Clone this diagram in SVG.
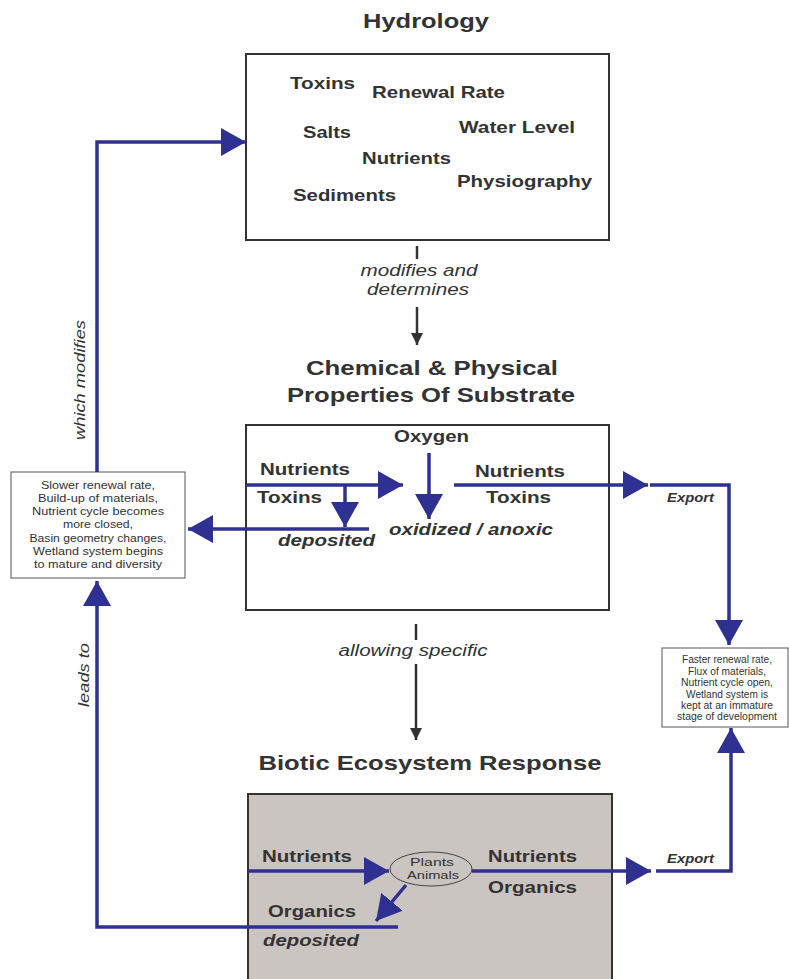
<svg xmlns="http://www.w3.org/2000/svg" width="789" height="979" viewBox="0 0 789 979">
<defs>
<style>
.t{font-family:"Liberation Sans",Arial,sans-serif;fill:#333;}
.title{font-size:21px;font-weight:bold;text-anchor:middle;}
.b{font-size:16.5px;font-weight:bold;}
.bi{font-size:16.5px;font-weight:bold;font-style:italic;}
.it{font-size:16px;font-style:italic;text-anchor:middle;}
.ex{font-size:12px;font-weight:bold;font-style:italic;}
.sm{font-size:11.5px;text-anchor:middle;}
.box{fill:#fff;stroke:#333;stroke-width:2;}
.nbox{fill:#fff;stroke:#555;stroke-width:1;}
.blue{stroke:#2e3192;stroke-width:3.5;fill:none;}
.dark{stroke:#333;stroke-width:2.5;fill:none;}
</style>
<marker id="ab" markerUnits="userSpaceOnUse" markerWidth="25" markerHeight="28" refX="25" refY="14" orient="auto" viewBox="0 0 25 28">
<path d="M0,0 L25,14 L0,28 z" fill="#2e3192"/>
</marker>
<marker id="ad" markerUnits="userSpaceOnUse" markerWidth="12" markerHeight="12" refX="12" refY="6" orient="auto" viewBox="0 0 12 12">
<path d="M0,0 L12,6 L0,12 z" fill="#333"/>
</marker>
</defs>
<rect width="789" height="979" fill="#fff"/>

<g id="hydrology">
<text class="t title" x="426" y="28" textLength="126" lengthAdjust="spacingAndGlyphs">Hydrology</text>
<rect class="box" x="246" y="54" width="363" height="186"/>
<text class="t b" x="290" y="89" textLength="65" lengthAdjust="spacingAndGlyphs">Toxins</text>
<text class="t b" x="372" y="98" textLength="133" lengthAdjust="spacingAndGlyphs">Renewal Rate</text>
<text class="t b" x="303" y="138" textLength="48" lengthAdjust="spacingAndGlyphs">Salts</text>
<text class="t b" x="459" y="133" textLength="116" lengthAdjust="spacingAndGlyphs">Water Level</text>
<text class="t b" x="362" y="164" textLength="89" lengthAdjust="spacingAndGlyphs">Nutrients</text>
<text class="t b" x="457" y="187" textLength="135" lengthAdjust="spacingAndGlyphs">Physiography</text>
<text class="t b" x="293" y="201" textLength="103" lengthAdjust="spacingAndGlyphs">Sediments</text>
</g>

<g id="substrate">
<text class="t title" x="432" y="375" textLength="252" lengthAdjust="spacingAndGlyphs">Chemical &amp; Physical</text>
<text class="t title" x="431" y="402" textLength="288" lengthAdjust="spacingAndGlyphs">Properties Of Substrate</text>
<rect class="box" x="246" y="425" width="363" height="185"/>
<text class="t b" x="394" y="442" textLength="75" lengthAdjust="spacingAndGlyphs">Oxygen</text>
<text class="t b" x="260" y="475" textLength="90" lengthAdjust="spacingAndGlyphs">Nutrients</text>
<text class="t b" x="257" y="503" textLength="65" lengthAdjust="spacingAndGlyphs">Toxins</text>
<text class="t b" x="475" y="477" textLength="90" lengthAdjust="spacingAndGlyphs">Nutrients</text>
<text class="t b" x="486" y="503" textLength="65" lengthAdjust="spacingAndGlyphs">Toxins</text>
<text class="t bi" x="278" y="546" textLength="97" lengthAdjust="spacingAndGlyphs">deposited</text>
<text class="t bi" x="389" y="535" textLength="164" lengthAdjust="spacingAndGlyphs">oxidized / anoxic</text>
</g>

<g id="biotic">
<text class="t title" x="430" y="770" textLength="343" lengthAdjust="spacingAndGlyphs">Biotic Ecosystem Response</text>
<rect x="248" y="794" width="364" height="190" fill="#cbc5c2" stroke="#333" stroke-width="2"/>
<text class="t b" x="262" y="862" textLength="90" lengthAdjust="spacingAndGlyphs">Nutrients</text>
<text class="t b" x="488" y="862" textLength="89" lengthAdjust="spacingAndGlyphs">Nutrients</text>
<text class="t b" x="488" y="893" textLength="89" lengthAdjust="spacingAndGlyphs">Organics</text>
<text class="t b" x="268" y="917" textLength="88" lengthAdjust="spacingAndGlyphs">Organics</text>
<text class="t bi" x="263" y="946" textLength="96" lengthAdjust="spacingAndGlyphs">deposited</text>
</g>

<g id="organisms">
<ellipse cx="431" cy="869" rx="41" ry="17" fill="#cbc5c2" stroke="#444" stroke-width="1"/>
<text class="t sm" x="432" y="866" font-size="13" textLength="44" lengthAdjust="spacingAndGlyphs">Plants</text>
<text class="t sm" x="433" y="879" font-size="13" textLength="52" lengthAdjust="spacingAndGlyphs">Animals</text>
</g>

<g id="mature">
<rect class="nbox" x="11" y="472" width="174" height="106"/>
<text class="t sm" x="98" y="489" textLength="114" lengthAdjust="spacingAndGlyphs">Slower renewal rate,</text>
<text class="t sm" x="98" y="502" textLength="120" lengthAdjust="spacingAndGlyphs">Build-up of materials,</text>
<text class="t sm" x="98" y="515" textLength="132" lengthAdjust="spacingAndGlyphs">Nutrient cycle becomes</text>
<text class="t sm" x="98" y="528" textLength="70" lengthAdjust="spacingAndGlyphs">more closed,</text>
<text class="t sm" x="98" y="542" textLength="137" lengthAdjust="spacingAndGlyphs">Basin geometry changes,</text>
<text class="t sm" x="98" y="555" textLength="130" lengthAdjust="spacingAndGlyphs">Wetland system begins</text>
<text class="t sm" x="98" y="568" textLength="128" lengthAdjust="spacingAndGlyphs">to mature and diversity</text>
</g>

<g id="immature">
<rect class="nbox" x="662" y="648" width="126" height="79"/>
<text class="t sm" x="727" y="663" font-size="10.5" textLength="90" lengthAdjust="spacingAndGlyphs">Faster renewal rate,</text>
<text class="t sm" x="727" y="675" font-size="10.5" textLength="78" lengthAdjust="spacingAndGlyphs">Flux of materials,</text>
<text class="t sm" x="727" y="686" font-size="10.5" textLength="92" lengthAdjust="spacingAndGlyphs">Nutrient cycle open,</text>
<text class="t sm" x="727" y="698" font-size="10.5" textLength="82" lengthAdjust="spacingAndGlyphs">Wetland system is</text>
<text class="t sm" x="727" y="709" font-size="10.5" textLength="92" lengthAdjust="spacingAndGlyphs">kept at an immature</text>
<text class="t sm" x="727" y="720" font-size="10.5" textLength="100" lengthAdjust="spacingAndGlyphs">stage of development</text>
</g>

<g id="connectors">
<line class="dark" x1="417" y1="246" x2="417" y2="259"/>
<text class="t it" x="419" y="276" textLength="117" lengthAdjust="spacingAndGlyphs">modifies and</text>
<text class="t it" x="418" y="295" textLength="102" lengthAdjust="spacingAndGlyphs">determines</text>
<line class="dark" x1="417" y1="307" x2="417" y2="345" marker-end="url(#ad)"/>
<line class="dark" x1="416" y1="624" x2="416" y2="640"/>
<text class="t it" x="413" y="656" textLength="149" lengthAdjust="spacingAndGlyphs">allowing specific</text>
<line class="dark" x1="416" y1="664" x2="416" y2="740" marker-end="url(#ad)"/>

<line class="blue" x1="246" y1="485" x2="403" y2="485" marker-end="url(#ab)"/>
<line class="blue" x1="345" y1="485" x2="345" y2="527" marker-end="url(#ab)"/>
<line class="blue" x1="429" y1="453" x2="429" y2="519" marker-end="url(#ab)"/>
<line class="blue" x1="369" y1="529" x2="188" y2="529" marker-end="url(#ab)"/>
<line class="blue" x1="454" y1="485" x2="648" y2="485" marker-end="url(#ab)"/>
<polyline class="blue" points="650,485 729,485 729,645" marker-end="url(#ab)"/>
<text class="t ex" x="667" y="502" textLength="47" lengthAdjust="spacingAndGlyphs">Export</text>

<polyline class="blue" points="97,472 97,142 246,142" marker-end="url(#ab)"/>
<text class="t" font-size="15" font-style="italic" text-anchor="middle" transform="translate(85,380) rotate(-90)" textLength="120" lengthAdjust="spacingAndGlyphs">which modifies</text>

<polyline class="blue" points="398,927 97,927 97,581" marker-end="url(#ab)"/>
<text class="t" font-size="15" font-style="italic" text-anchor="middle" transform="translate(89,675) rotate(-90)" textLength="64" lengthAdjust="spacingAndGlyphs">leads to</text>

<line class="blue" x1="248" y1="871" x2="389" y2="871" marker-end="url(#ab)"/>
<line class="blue" x1="406" y1="885" x2="376" y2="921" marker-end="url(#ab)"/>
<line class="blue" x1="472" y1="871" x2="651" y2="871" marker-end="url(#ab)"/>
<polyline class="blue" points="656,871 731,871 731,728" marker-end="url(#ab)"/>
<text class="t ex" x="667" y="863" textLength="47" lengthAdjust="spacingAndGlyphs">Export</text>
</g>
</svg>
